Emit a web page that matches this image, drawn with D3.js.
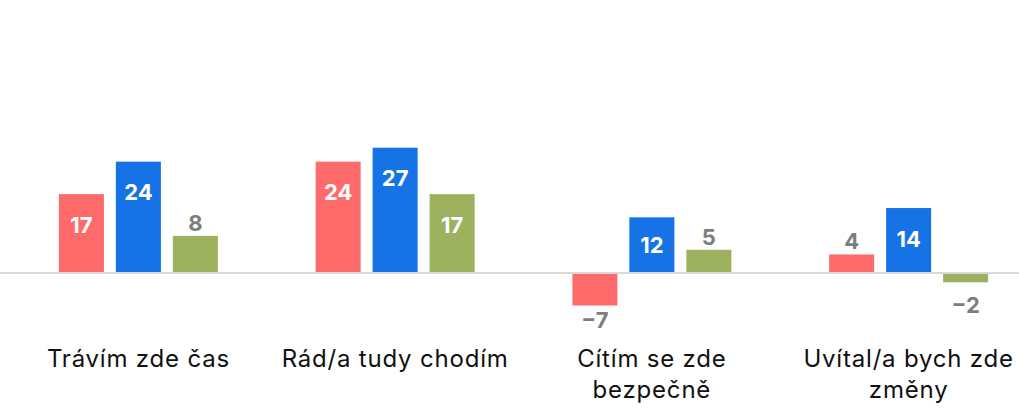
<!DOCTYPE html>
<html>
<head>
<meta charset="utf-8">
<script src="https://cdn.jsdelivr.net/npm/d3@7"></script>
<style>
    body { margin: 0; background: #fff; }
    #showBox { width: 1019px; height: 412px; }
</style>
</head>
<body>
<div id="showBox"></div>
<script>
const categories = ["Trávím zde čas", "Rád/a tudy chodím", "Cítím se zde bezpečně", "Uvítal/a bych zde změny"]
const seriesNames = ["A", "B", "C"]
const seriesA = [17, 24, -7, 4]
const seriesB = [24, 27, 12, 14]
const seriesC = [8, 17, 5, -2]
const colors = ["#ff6b6b", "#1573e5", "#9eb15f"]

const width = 1019, height = 412

const rows = categories.map((c, i) => ({
    name: c,
    values: [seriesA[i], seriesB[i], seriesC[i]].map((v, j) => ({key: seriesNames[j], value: v}))
}))

const svg = d3.select("#showBox").append("svg")
    .attr("width", width)
    .attr("height", height)

const x0 = d3.scaleBand()
    .domain(categories)
    .range([10, 1037])
    .padding(0)

const x1 = d3.scaleBand()
    .domain(seriesNames)
    .range([0, 159])
    .paddingInner(0.21)
    .paddingOuter(0)

// 4.64 px per unit, zero at y=273
const y = d3.scaleLinear()
    .domain([-10, 40])
    .range([273 + 46.4, 273 - 185.6])

svg.append("line")
    .attr("x1", 0).attr("x2", width)
    .attr("y1", y(0)).attr("y2", y(0))
    .attr("stroke", "#d9d9d9")
    .attr("stroke-width", 2)

const group = svg.append("g")
    .selectAll("g")
    .data(rows)
    .join("g")
    .attr("transform", d => `translate(${x0(d.name) + x0.bandwidth() / 2 - 79.5},0)`)

group.selectAll("rect")
    .data(d => d.values)
    .join("rect")
    .attr("x", d => x1(d.key))
    .attr("width", x1.bandwidth())
    .attr("y", d => d.value >= 0 ? y(d.value) : y(0) + 1)
    .attr("height", d => Math.abs(y(d.value) - y(0)) - 1)
    .attr("fill", (d, i) => colors[i])

group.selectAll("text")
    .data(d => d.values)
    .join("text")
    .attr("x", d => x1(d.key) + x1.bandwidth() / 2)
    .attr("y", d => {
        const top = y(d.value), base = y(0)
        if (d.value >= 10) return Math.min(top + 31, (top + base) / 2)
        if (d.value >= 0) return top - 13
        return Math.max(top + 15, base + 32)
    })
    .attr("dy", "0.35em")
    .attr("text-anchor", "middle")
    .attr("font-family", "Inter, sans-serif")
    .attr("font-weight", 700)
    .attr("font-size", 22)
    .attr("fill", d => d.value >= 10 ? "#ffffff" : "#7d7d7d")
    .text(d => d.value < 0 ? "\u2212" + Math.abs(d.value) : d.value)

// category labels, wrapped
const labels = svg.append("g")
    .attr("font-family", "Inter, sans-serif")
    .attr("font-size", 24)
    .attr("letter-spacing", 0.8)
    .attr("fill", "#111")
    .attr("text-anchor", "middle")
    .selectAll("text")
    .data(categories)
    .join("text")
    .attr("x", d => x0(d) + x0.bandwidth() / 2)
    .attr("y", 367)

labels.each(function (d) {
    const t = d3.select(this)
    const words = d.split(" ")
    let line = []
    let tspan = t.append("tspan").attr("x", t.attr("x")).attr("dy", 0)
    words.forEach(w => {
        line.push(w)
        tspan.text(line.join(" "))
        if (tspan.node().getComputedTextLength() > 255 && line.length > 1) {
            line.pop()
            tspan.text(line.join(" "))
            line = [w]
            tspan = t.append("tspan").attr("x", t.attr("x")).attr("dy", 31).text(w)
        }
    })
})
</script>
</body>
</html>
